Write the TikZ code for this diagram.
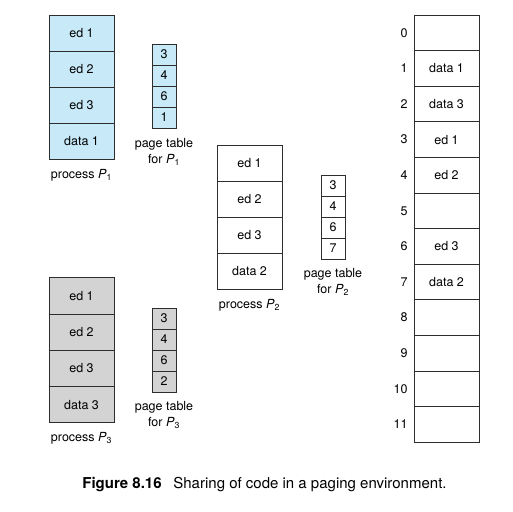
\documentclass[tikz,border=0pt]{standalone}
\usepackage{fontspec}
\setmainfont{TeX Gyre Heros}
\usepackage{tikz}
\definecolor{PageBlue}{RGB}{199,233,248}
\definecolor{PageGray}{RGB}{211,211,211}
\definecolor{PageLine}{RGB}{45,45,45}

\begin{document}
\begin{tikzpicture}[x=1pt,y=-1pt,font=\fontsize{12.5}{16}\selectfont,line width=0.8pt,
pg/.style n args={3}{draw=PageLine,fill=#1,minimum width=#2pt,minimum height=#3pt,inner sep=0pt,rectangle},
lbl/.style={inner sep=0pt,align=center}]
\useasboundingbox (0,0) rectangle (513,511);
% process P1 and its page table
\foreach \t [count=\i from 0] in {ed 1,ed 2,ed 3,data 1} {
   \node[pg={PageBlue}{65}{36}] (p1-\i) at (81.5,33+36*\i) {\t};
}
\foreach \t [count=\i from 0] in {3,4,6,1} {
   \node[pg={PageBlue}{24}{21}] (pt1-\i) at (164,54.5+21*\i) {\t};
}
\node[lbl] (l-p1) at (81.5,175) {process \textit{P}\textsubscript{1}};
\node[lbl] (l-pt1) at (164,152) {page table\\for \textit{P}\textsubscript{1}};
% process P2 and its page table
\foreach \t [count=\i from 0] in {ed 1,ed 2,ed 3,data 2} {
   \node[pg={white}{65}{36}] (p2-\i) at (249.5,163+36*\i) {\t};
}
\foreach \t [count=\i from 0] in {3,4,6,7} {
   \node[pg={white}{24}{21}] (pt2-\i) at (333,185.5+21*\i) {\t};
}
\node[lbl] (l-p2) at (249.5,305) {process \textit{P}\textsubscript{2}};
\node[lbl] (l-pt2) at (333,281.5) {page table\\for \textit{P}\textsubscript{2}};
% process P3 and its page table
\foreach \t [count=\i from 0] in {ed 1,ed 2,ed 3,data 3} {
   \node[pg={PageGray}{65}{36.25}] (p3-\i) at (81.5,296+36.25*\i) {\t};
}
\foreach \t [count=\i from 0] in {3,4,6,2} {
   \node[pg={PageGray}{24}{21}] (pt3-\i) at (164,318.5+21*\i) {\t};
}
\node[lbl] (l-p3) at (81.5,438) {process \textit{P}\textsubscript{3}};
\node[lbl] (l-pt3) at (164,415) {page table\\for \textit{P}\textsubscript{3}};
% physical memory
\foreach \t [count=\i from 0] in {{},data 1,data 3,ed 1,ed 2,{},ed 3,data 2,{},{},{},{}} {
   \node[pg={white}{65}{35.6}] (m\i) at (446.5,32.8+35.6*\i) {\t};
   \node[lbl,anchor=east] (n\i) at (408,32.8+35.6*\i) {\i};
}
% caption
\node[lbl,anchor=west,font=\fontsize{15}{16}\selectfont\bfseries] (cap1) at (82,485) {Figure 8.16};
\node[lbl,anchor=west,font=\fontsize{15}{16}\selectfont] (cap2) at (173,485) {Sharing of code in a paging environment.};
\end{tikzpicture}
\end{document}
